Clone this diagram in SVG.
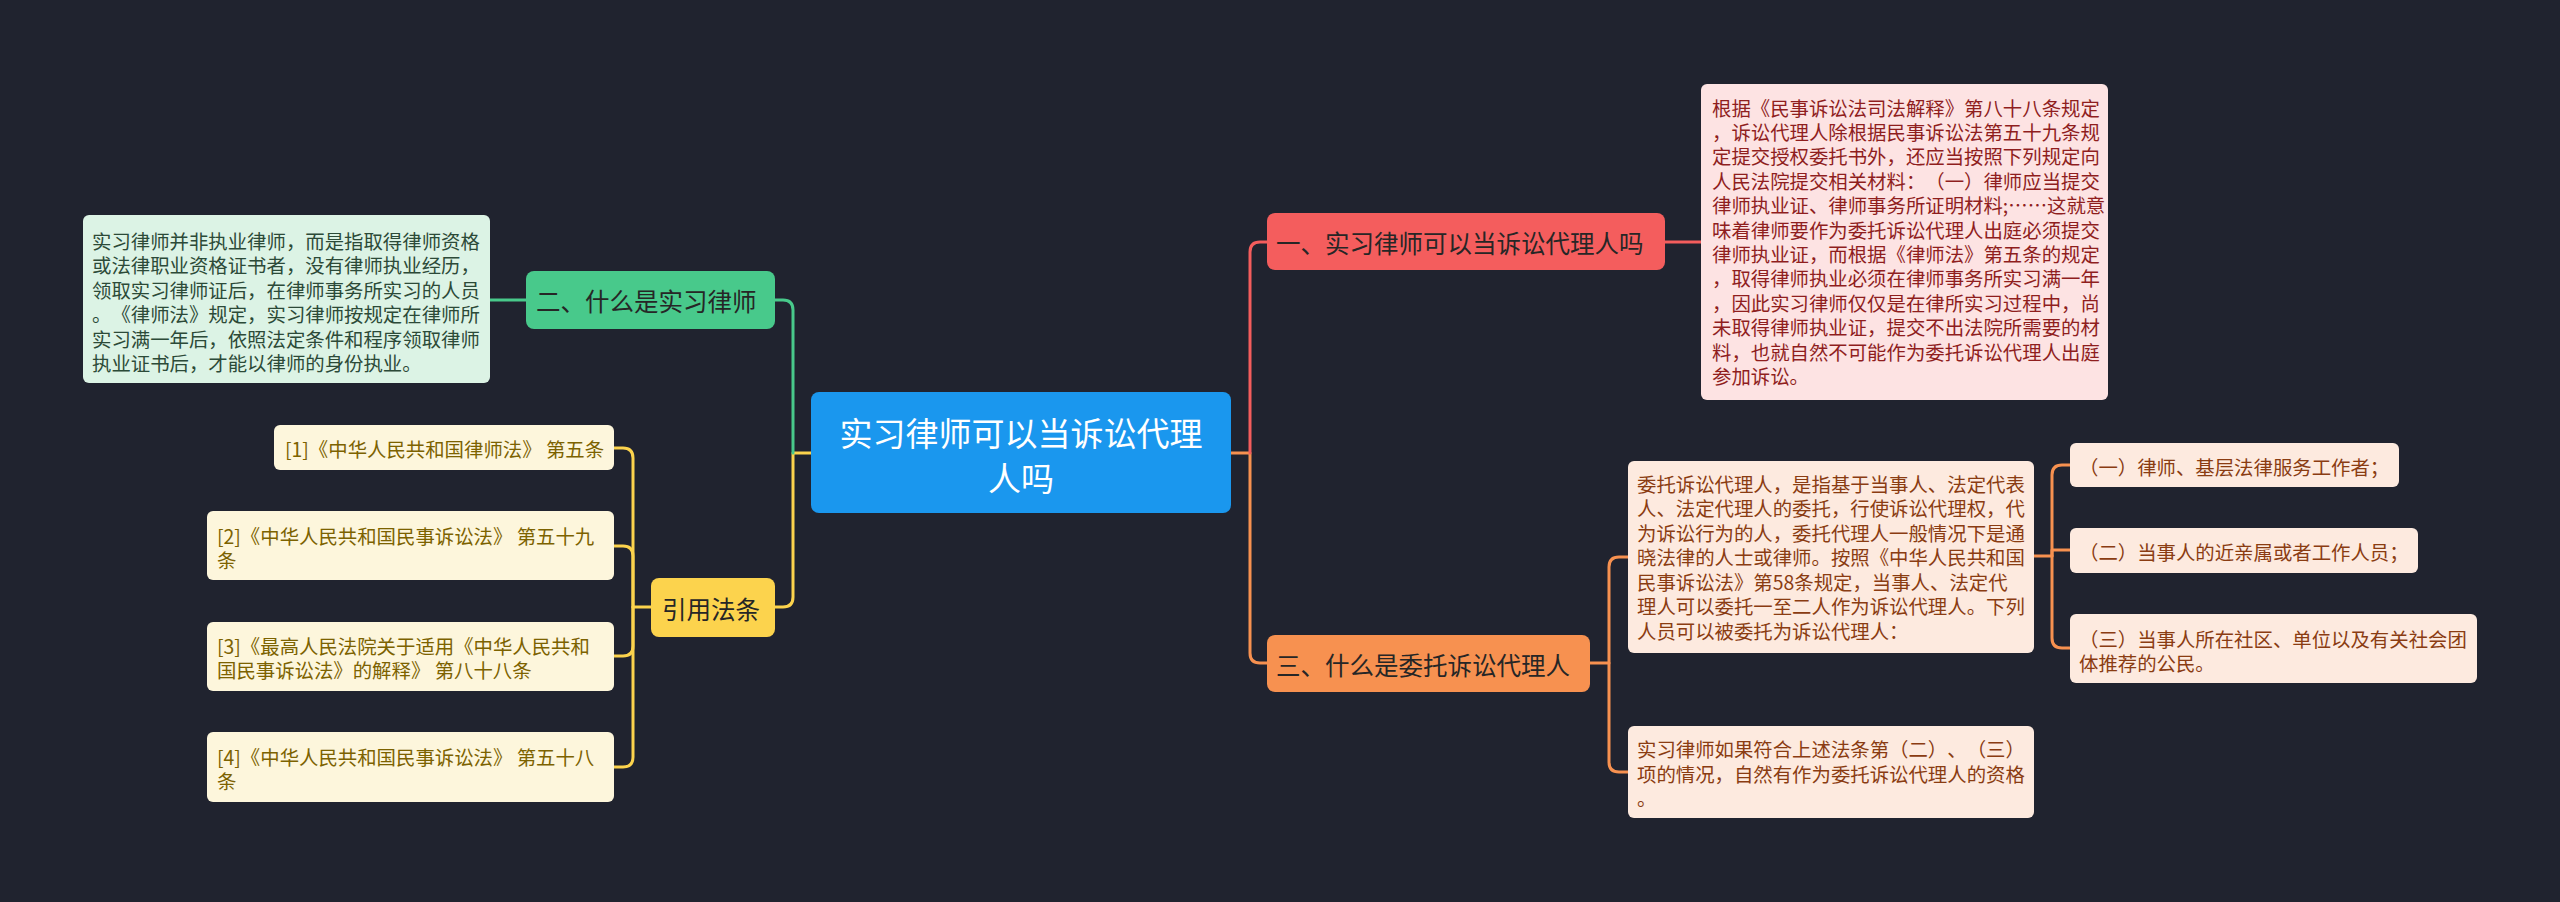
<svg xmlns="http://www.w3.org/2000/svg" width="2560" height="902" viewBox="0 0 2560 902">
<style>
text{font-family:"Noto Sans CJK SC","Noto Sans",sans-serif;text-spacing-trim:space-all;}
.c{fill:none;stroke-width:3;stroke-linecap:round;stroke-linejoin:round;}
.red{stroke:#f45d5d;}
.org{stroke:#f79150;}
.grn{stroke:#48c98b;}
.yel{stroke:#fcd34d;}
.l1{font-size:24.5px;fill:#262626;}
.nt{font-size:19.4px;}
</style>
<rect width="2560" height="902" fill="#20232f"/>
<g id="connectors">
<path class="c org" d="M1231,453 H1250 V653 Q1250,663 1260,663 H1267"/>
<path class="c red" d="M1250,453 V252 Q1250,242 1260,242 H1267"/>
<path class="c red" d="M1665,242 H1701"/>
<path class="c org" d="M1590,663 H1609 V567 Q1609,557 1619,557 H1628"/>
<path class="c org" d="M1609,663 V762 Q1609,772 1619,772 H1628"/>
<path class="c org" d="M2034,556 H2052 V475 Q2052,465 2062,465 H2070"/>
<path class="c org" d="M2052,556 V550 H2070"/>
<path class="c org" d="M2052,556 V638 Q2052,648 2062,648 H2070"/>
<path class="c yel" d="M811,453 H793 V597 Q793,607 783,607 H775"/>
<path class="c grn" d="M793,453 V310 Q793,300 783,300 H775"/>
<path class="c grn" d="M526,300 H490"/>
<path class="c yel" d="M651,607 H633 V458 Q633,448 623,448 H614"/>
<path class="c yel" d="M633,607 V556 Q633,546 623,546 H614"/>
<path class="c yel" d="M633,607 V646 Q633,656 623,656 H614"/>
<path class="c yel" d="M633,607 V757 Q633,767 623,767 H614"/>
</g>
<g id="root">
<rect x="811" y="392" width="420" height="121" rx="8" fill="#1a97ee"/>
<text x="1021" y="432" font-size="33" fill="#ffffff" text-anchor="middle" dominant-baseline="central">实习律师可以当诉讼代理</text>
<text x="1021" y="477" font-size="33" fill="#ffffff" text-anchor="middle" dominant-baseline="central">人吗</text>
</g>
<g id="n1">
<rect x="1267" y="213" width="398" height="57" rx="8" fill="#f45d5d"/>
<text class="l1" x="1276" y="242" dominant-baseline="central">一、实习律师可以当诉讼代理人吗</text>
</g>
<g id="n1-note">
<rect x="1701" y="84" width="407" height="316" rx="6" fill="#fde3e3"/>
<g class="nt" fill="#8f1e1e">
<text x="1712" y="107" dominant-baseline="central">根据《民事诉讼法司法解释》第八十八条规定</text>
<text x="1712" y="131.4" dominant-baseline="central">，诉讼代理人除根据民事诉讼法第五十九条规</text>
<text x="1712" y="155.8" dominant-baseline="central">定提交授权委托书外，还应当按照下列规定向</text>
<text x="1712" y="180.2" dominant-baseline="central">人民法院提交相关材料：（一）律师应当提交</text>
<text x="1712" y="204.6" dominant-baseline="central">律师执业证、律师事务所证明材料;……这就意</text>
<text x="1712" y="229" dominant-baseline="central">味着律师要作为委托诉讼代理人出庭必须提交</text>
<text x="1712" y="253.4" dominant-baseline="central">律师执业证，而根据《律师法》第五条的规定</text>
<text x="1712" y="277.8" dominant-baseline="central">，取得律师执业必须在律师事务所实习满一年</text>
<text x="1712" y="302.2" dominant-baseline="central">，因此实习律师仅仅是在律所实习过程中，尚</text>
<text x="1712" y="326.6" dominant-baseline="central">未取得律师执业证，提交不出法院所需要的材</text>
<text x="1712" y="351" dominant-baseline="central">料，也就自然不可能作为委托诉讼代理人出庭</text>
<text x="1712" y="375.4" dominant-baseline="central">参加诉讼。</text>
</g>
</g>
<g id="n3">
<rect x="1267" y="635" width="323" height="57" rx="8" fill="#f79150"/>
<text class="l1" x="1276" y="664" dominant-baseline="central">三、什么是委托诉讼代理人</text>
</g>
<g id="n3-note-a">
<rect x="1628" y="461" width="406" height="192" rx="6" fill="#fdeadf"/>
<g class="nt" fill="#8a3c12">
<text x="1637" y="483" dominant-baseline="central">委托诉讼代理人，是指基于当事人、法定代表</text>
<text x="1637" y="507.5" dominant-baseline="central">人、法定代理人的委托，行使诉讼代理权，代</text>
<text x="1637" y="532" dominant-baseline="central">为诉讼行为的人，委托代理人一般情况下是通</text>
<text x="1637" y="556.5" dominant-baseline="central">晓法律的人士或律师。按照《中华人民共和国</text>
<text x="1637" y="581" dominant-baseline="central">民事诉讼法》第58条规定，当事人、法定代</text>
<text x="1637" y="605.5" dominant-baseline="central">理人可以委托一至二人作为诉讼代理人。下列</text>
<text x="1637" y="630" dominant-baseline="central">人员可以被委托为诉讼代理人：</text>
</g>
</g>
<g id="n3-note-b">
<rect x="1628" y="726" width="406" height="92" rx="6" fill="#fdeadf"/>
<g class="nt" fill="#8a3c12">
<text x="1637" y="748" dominant-baseline="central">实习律师如果符合上述法条第（二）、（三）</text>
<text x="1637" y="773" dominant-baseline="central">项的情况，自然有作为委托诉讼代理人的资格</text>
<text x="1637" y="797" dominant-baseline="central">。</text>
</g>
</g>
<g id="item1">
<rect x="2070" y="443" width="329" height="44" rx="6" fill="#fdeadf"/>
<text class="nt" x="2079" y="466" fill="#8a3c12" dominant-baseline="central">（一）律师、基层法律服务工作者；</text>
</g>
<g id="item2">
<rect x="2070" y="528" width="348" height="45" rx="6" fill="#fdeadf"/>
<text class="nt" x="2079" y="551" fill="#8a3c12" dominant-baseline="central">（二）当事人的近亲属或者工作人员；</text>
</g>
<g id="item3">
<rect x="2070" y="614" width="407" height="69" rx="6" fill="#fdeadf"/>
<text class="nt" x="2079" y="638" fill="#8a3c12" dominant-baseline="central">（三）当事人所在社区、单位以及有关社会团</text>
<text class="nt" x="2079" y="662.5" fill="#8a3c12" dominant-baseline="central">体推荐的公民。</text>
</g>
<g id="n2">
<rect x="526" y="271" width="249" height="58" rx="8" fill="#48c98b"/>
<text class="l1" x="536" y="300" dominant-baseline="central">二、什么是实习律师</text>
</g>
<g id="n2-note">
<rect x="83" y="215" width="407" height="168" rx="6" fill="#dcf3e5"/>
<g class="nt" fill="#2c4a38">
<text x="92" y="240" dominant-baseline="central">实习律师并非执业律师，而是指取得律师资格</text>
<text x="92" y="264.5" dominant-baseline="central">或法律职业资格证书者，没有律师执业经历，</text>
<text x="92" y="289" dominant-baseline="central">领取实习律师证后，在律师事务所实习的人员</text>
<text x="92" y="313.5" dominant-baseline="central">。《律师法》规定，实习律师按规定在律师所</text>
<text x="92" y="338" dominant-baseline="central">实习满一年后，依照法定条件和程序领取律师</text>
<text x="92" y="362.5" dominant-baseline="central">执业证书后，才能以律师的身份执业。</text>
</g>
</g>
<g id="refs">
<rect x="651" y="578" width="124" height="59" rx="8" fill="#fcd34d"/>
<text class="l1" x="662" y="608" dominant-baseline="central">引用法条</text>
</g>
<g id="ref1">
<rect x="274" y="425" width="340" height="45" rx="6" fill="#fdf6dc"/>
<text class="nt" x="285" y="448" fill="#7c6200" dominant-baseline="central">[1]《中华人民共和国律师法》 第五条</text>
</g>
<g id="ref2">
<rect x="207" y="511" width="407" height="69" rx="6" fill="#fdf6dc"/>
<text class="nt" x="217" y="535" fill="#7c6200" dominant-baseline="central">[2]《中华人民共和国民事诉讼法》 第五十九</text>
<text class="nt" x="217" y="559" fill="#7c6200" dominant-baseline="central">条</text>
</g>
<g id="ref3">
<rect x="207" y="622" width="407" height="69" rx="6" fill="#fdf6dc"/>
<text class="nt" x="217" y="645" fill="#7c6200" dominant-baseline="central">[3]《最高人民法院关于适用《中华人民共和</text>
<text class="nt" x="217" y="669" fill="#7c6200" dominant-baseline="central">国民事诉讼法》的解释》 第八十八条</text>
</g>
<g id="ref4">
<rect x="207" y="732" width="407" height="70" rx="6" fill="#fdf6dc"/>
<text class="nt" x="217" y="756" fill="#7c6200" dominant-baseline="central">[4]《中华人民共和国民事诉讼法》 第五十八</text>
<text class="nt" x="217" y="780" fill="#7c6200" dominant-baseline="central">条</text>
</g>
</svg>
